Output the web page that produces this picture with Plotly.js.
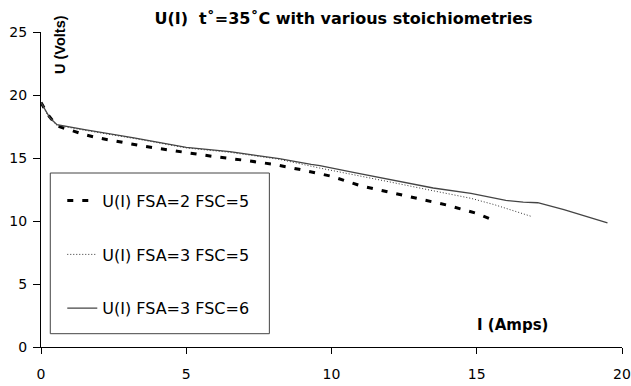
<!DOCTYPE html>
<html>
<head>
<meta charset="utf-8">
<script src="https://cdn.plot.ly/plotly-3.0.1.min.js"></script>
<style>html,body{margin:0;padding:0;background:#fff;}#chart{width:631px;height:386px;}</style>
</head>
<body>
<div id="chart"></div>
<script>
// Series: U(I) FSA=2 FSC=5 (dashed)
const xA = [0, 0.25, 0.55, 1, 1.5, 2, 2.5, 3, 3.5, 4, 4.5, 5, 6, 7, 8, 9, 10, 11, 12, 13, 14, 15, 15.6];
const yA = [19.4, 18.4, 17.55, 17.2, 16.85, 16.58, 16.35, 16.15, 15.95, 15.77, 15.6, 15.44, 15.1, 14.82, 14.5, 14.05, 13.55, 12.8, 12.3, 11.75, 11.25, 10.6, 10.05];
// Series: U(I) FSA=3 FSC=5 (dotted)
const xB = [0, 0.3, 0.55, 1.5, 3.2, 5, 6.5, 8.2, 9.6, 10.75, 11.9, 13.5, 14.8, 15.6, 16.9];
const yB = [19.4, 18.1, 17.6, 17.2, 16.55, 15.8, 15.45, 14.9, 14.2, 13.7, 13.15, 12.4, 11.8, 11.3, 10.35];
// Series: U(I) FSA=3 FSC=6 (solid)
const xC = [0, 0.3, 0.55, 1.5, 3.2, 5, 6.5, 8.2, 9.3, 9.6, 10.75, 11.9, 13.5, 14.8, 16, 16.6, 17.1, 18, 19.5];
const yC = [19.4, 18.2, 17.65, 17.25, 16.6, 15.85, 15.5, 14.95, 14.5, 14.4, 13.86, 13.33, 12.62, 12.2, 11.63, 11.5, 11.45, 10.9, 9.85];

const seriesNames = ["U(I) FSA=2 FSC=5", "U(I) FSA=3 FSC=5", "U(I) FSA=3 FSC=6"];
const xTicks = [0, 5, 10, 15, 20];
const yTicks = [0, 5, 10, 15, 20, 25];
const chartTitle = "U(I)  t\u02DA=35\u02DAC with various stoichiometries";
const xTitle = "I (Amps)";
const yTitle = "U (Volts)";

const traces = [
  {x: xA, y: yA, name: seriesNames[0], legendgroup: "a", mode: "lines",
   line: {color: "#000", width: 3, dash: "6px,9px"}},
  {x: xB, y: yB, name: seriesNames[1], legendgroup: "b", mode: "lines",
   line: {color: "#333", width: 1, dash: "1px,2px"}},
  {x: xC, y: yC, name: seriesNames[2], legendgroup: "c", mode: "lines",
   line: {color: "#444", width: 1.3}}
];

const L = 40.7, T = 32.3, W = 581.6, H = 315;
const px = v => (v - L) / W;
const py = v => (T + H - v) / H;

const layout = {
  width: 631, height: 386,
  margin: {l: L, r: 631 - L - W, t: T, b: 386 - T - H, pad: 0},
  paper_bgcolor: "#fff", plot_bgcolor: "#fff",
  font: {family: "DejaVu Sans", size: 14, color: "#000"},
  title: {text: chartTitle, x: 343.5 / 631, xanchor: "center", xref: "container",
          y: 1 - 18 / 386, yanchor: "middle", yref: "container",
          font: {family: "DejaVu Sans", size: 16, weight: "bold", color: "#000"}},
  xaxis: {range: [0, 20], tickvals: xTicks, ticktext: xTicks.map(String),
          showgrid: false, zeroline: false, showline: true, linecolor: "#000", linewidth: 1,
          ticks: "outside", ticklen: 6, tickcolor: "#000", tickwidth: 1, ticklabelstandoff: 8,
          tickfont: {family: "DejaVu Sans", size: 14, color: "#000"}, fixedrange: true},
  yaxis: {range: [0, 25], tickvals: yTicks, ticktext: yTicks.map(String),
          showgrid: false, zeroline: false, showline: true, linecolor: "#000", linewidth: 1,
          ticks: "outside", ticklen: 7, tickcolor: "#000", tickwidth: 1, ticklabelstandoff: 3,
          tickfont: {family: "DejaVu Sans", size: 14, color: "#000"}, fixedrange: true},
  showlegend: true,
  legend: {x: px(62), xanchor: "left", y: py(184), yanchor: "top",
           bgcolor: "rgba(0,0,0,0)", borderwidth: 0, tracegroupgap: 30,
           font: {family: "DejaVu Sans", size: 16, color: "#000"}, itemwidth: 30},
  shapes: [{type: "rect", xref: "paper", yref: "paper",
            x0: px(50), x1: px(269.3), y0: py(334), y1: py(173.3),
            line: {color: "#444", width: 1}, fillcolor: "rgba(0,0,0,0)"}],
  annotations: [
    {text: "<b>" + yTitle + "</b>", xref: "paper", yref: "paper", x: px(59), y: py(45),
     xanchor: "center", yanchor: "middle", textangle: -90, showarrow: false,
     font: {family: "Liberation Sans", size: 14.5, color: "#000"}},
    {text: "<b>" + xTitle + "</b>", xref: "paper", yref: "paper", x: px(512.5), y: py(325),
     xanchor: "center", yanchor: "middle", showarrow: false,
     font: {family: "DejaVu Sans", size: 15, color: "#000"}}
  ]
};

Plotly.newPlot("chart", traces, layout, {staticPlot: true, displayModeBar: false});
</script>
</body>
</html>
